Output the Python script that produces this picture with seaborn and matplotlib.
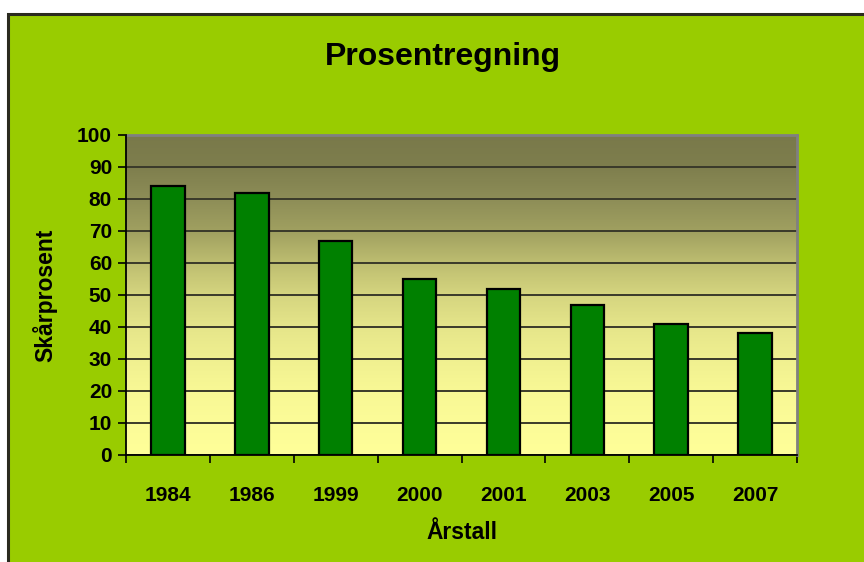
import numpy as np
import pandas as pd
import matplotlib
matplotlib.use("Agg")
import matplotlib.pyplot as plt
import seaborn as sns
from matplotlib.colors import LinearSegmentedColormap
from matplotlib.patches import Rectangle

years = ["1984", "1986", "1999", "2000", "2001", "2003", "2005", "2007"]
scores = [84, 82, 67, 55, 52, 47, 41, 38]
yticks = [0, 10, 20, 30, 40, 50, 60, 70, 80, 90, 100]

sns.set_theme(style="white")
plt.rcParams["font.family"] = ["Liberation Sans", "DejaVu Sans"]
plt.rcParams["font.weight"] = "bold"

W, H = 864, 562
fig = plt.figure(figsize=(W / 100, H / 100), dpi=100, facecolor="white")

# chart area background (green with dark border)
bg = Rectangle((8 / W, -0.01), 1.02 - 8 / W, (H - 14) / H + 0.01, transform=fig.transFigure,
               facecolor="#99CC00", edgecolor="#2b2b1f", linewidth=2.2, zorder=-10)
fig.patches.append(bg)

left, right, top, bottom = 126, 797, 135, 455
ax = fig.add_axes([left / W, (H - bottom) / H, (right - left) / W, (bottom - top) / H])
ax.set_facecolor("none")

df = pd.DataFrame({"Årstall": years, "Skårprosent": scores})
sns.barplot(data=df, x="Årstall", y="Skårprosent", color="#008000", saturation=1,
            width=0.40, edgecolor="black", linewidth=1.6, ax=ax, zorder=3)

n = len(years)
ax.set_xlim(-0.5, n - 0.5)
ax.set_ylim(0, 100)

# gradient plot area
stops = [(0.0, "#FFFF99"), (0.1, "#FCFC98"), (0.2, "#F8F895"), (0.3, "#F0F090"),
         (0.4, "#E5E58A"), (0.5, "#D5D57F"), (0.6, "#BDBD70"), (0.7, "#A0A060"),
         (0.8, "#8D8D57"), (0.9, "#7E7E4D"), (1.0, "#79794A")]
cmap = LinearSegmentedColormap.from_list("grad", stops)
grad = np.linspace(0, 1, 256).reshape(-1, 1)
ax.imshow(grad, cmap=cmap, origin="lower", aspect="auto",
          extent=[-0.5, n - 0.5, 0, 100], zorder=0)

ax.set_yticks(yticks)
ax.yaxis.grid(True, color="#3a3a2a", linewidth=1.4, zorder=1)
ax.set_axisbelow(True)
for g in ax.get_ygridlines():
    g.set_zorder(1)

ax.set_xticks(range(n))
ax.set_xticklabels(years)
ax.set_xticks(np.arange(-0.5, n, 1.0), minor=True)
ax.tick_params(axis="x", which="major", length=0, pad=22, labelsize=15)
ax.tick_params(axis="x", which="minor", length=6, width=1.2, color="black", direction="out", bottom=True)
ax.tick_params(axis="y", which="major", length=6, width=1.2, color="black", direction="out",
               left=True, pad=4, labelsize=15)
for lab in ax.get_xticklabels() + ax.get_yticklabels():
    lab.set_fontweight("bold")
    lab.set_color("black")

for s in ["left", "bottom"]:
    ax.spines[s].set_color("black")
    ax.spines[s].set_linewidth(1.3)
    ax.spines[s].set_zorder(5)
for s in ["top", "right"]:
    ax.spines[s].set_color("#808080")
    ax.spines[s].set_linewidth(2.0)

ax.set_xlabel("Årstall", fontsize=16.5, fontweight="bold", color="black", labelpad=12)
ax.set_ylabel("Skårprosent", fontsize=16.5, fontweight="bold", color="black", labelpad=14)

fig.text(443 / W, 1 - 57 / H, "Prosentregning", ha="center", va="center",
         fontsize=23, fontweight="bold", color="black")

fig.savefig("out.png", dpi=100, facecolor="white")
